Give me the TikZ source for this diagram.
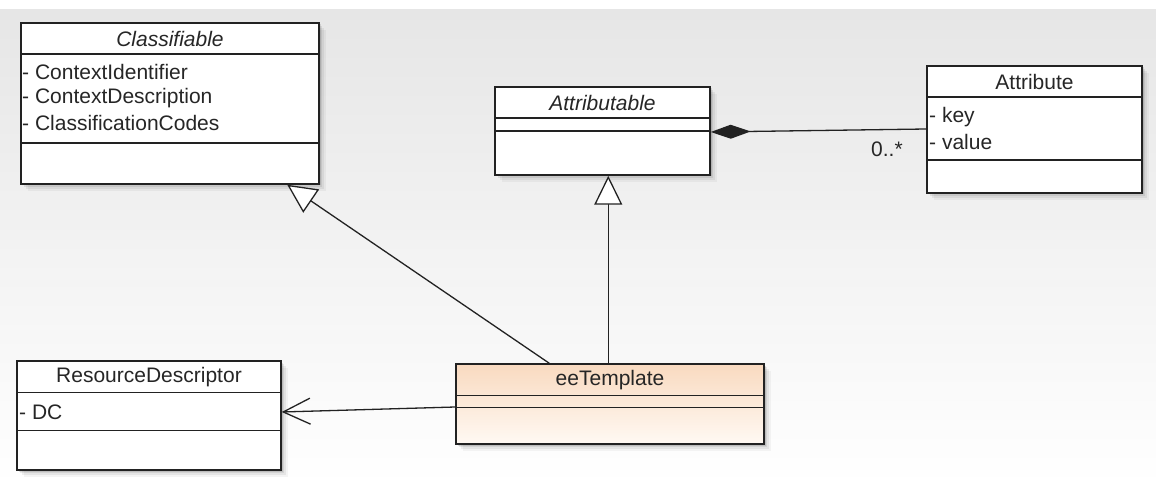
\documentclass[tikz,border=0pt]{standalone}
\usepackage{fontspec}
\setmainfont{Liberation Sans}
\usetikzlibrary{arrows.meta,shadows}
\definecolor{ink}{HTML}{262626}
\definecolor{frame}{HTML}{222222}
\definecolor{bgtop}{HTML}{E6E6E6}
\definecolor{peachtop}{HTML}{F9DAC0}
\definecolor{peachbot}{HTML}{FFF9F3}

\begin{document}
\begin{tikzpicture}[x=1pt,y=-1pt,
  softshadow/.style={
    general shadow={fill=black,opacity=.10,shadow xshift=1.5pt,shadow yshift=-1.5pt},
    general shadow={fill=black,opacity=.08,shadow xshift=3pt,shadow yshift=-3pt},
    general shadow={fill=black,opacity=.06,shadow xshift=5pt,shadow yshift=-5pt},
    general shadow={fill=black,opacity=.04,shadow xshift=7pt,shadow yshift=-7pt}},
  classbox/.style={draw=frame, line width=1.5pt, fill=white, inner sep=0pt, softshadow},
  compartment/.style={draw=frame, line width=1.5pt},
  title/.style={font=\fontsize{21}{25}\selectfont, text=ink, inner sep=0pt},
  titleit/.style={font=\fontsize{21}{25}\selectfont\itshape, text=ink, inner sep=0pt},
  attr/.style={font=\fontsize{21}{25}\selectfont, text=ink, inner sep=0pt, anchor=west},
  conn/.style={draw=frame, line width=1.3pt},
  realize/.style={conn, -{Triangle[open, length=29pt, width=28pt, fill=white]}},
]

\useasboundingbox (0,0) rectangle (1156,486);
\shade[top color=bgtop, bottom color=white] (0,10) rectangle (1156,486);

% Classifiable
\node[classbox, minimum width=298pt, minimum height=161pt] (classifiable) at (170,103.5) {};
\draw[compartment] ([yshift=-32pt]classifiable.north west) -- ([yshift=-32pt]classifiable.north east);
\draw[compartment] ([yshift=-121pt]classifiable.north west) -- ([yshift=-121pt]classifiable.north east);
\node[titleit] (classifiableName) at (170,39) {Classifiable};
\node[attr] (ctxId) at (22,72) {- ContextIdentifier};
\node[attr] (ctxDesc) at (22,98) {- ContextDescription};
\node[attr] (classCodes) at (22,123) {- ClassificationCodes};

% Attributable
\node[classbox, minimum width=215pt, minimum height=88pt] (attributable) at (602.5,131) {};
\draw[compartment] ([yshift=-32pt]attributable.north west) -- ([yshift=-32pt]attributable.north east);
\draw[compartment] ([yshift=-45pt]attributable.north west) -- ([yshift=-45pt]attributable.north east);
\node[titleit] (attributableName) at (602.5,103) {Attributable};

% Attribute
\node[classbox, minimum width=215pt, minimum height=127pt] (attribute) at (1034.5,129.5) {};
\draw[compartment] ([yshift=-32pt]attribute.north west) -- ([yshift=-32pt]attribute.north east);
\draw[compartment] ([yshift=-95pt]attribute.north west) -- ([yshift=-95pt]attribute.north east);
\node[title] (attributeName) at (1034.5,82) {Attribute};
\node[attr] (keyAttr) at (929,117) {- key};
\node[attr] (valueAttr) at (929,142) {- value};

% ResourceDescriptor
\node[classbox, minimum width=264pt, minimum height=109pt] (resource) at (149,415.5) {};
\draw[compartment] ([yshift=-32pt]resource.north west) -- ([yshift=-32pt]resource.north east);
\draw[compartment] ([yshift=-70pt]resource.north west) -- ([yshift=-70pt]resource.north east);
\node[title] (resourceName) at (149,377) {ResourceDescriptor};
\node[attr] (dcAttr) at (19,412) {- DC};

% eeTemplate
\node[classbox, top color=peachtop, bottom color=peachbot, minimum width=308pt, minimum height=80pt] (template) at (610,404) {};
\draw[compartment] ([yshift=-32pt]template.north west) -- ([yshift=-32pt]template.north east);
\draw[compartment] ([yshift=-44pt]template.north west) -- ([yshift=-44pt]template.north east);
\node[title] (templateName) at (610,380) {eeTemplate};

% Generalizations
\draw[realize] ([xshift=94pt]template.north west) -- ([xshift=267pt]classifiable.south west);
\draw[realize] ([xshift=153pt]template.north west) -- ([xshift=114pt]attributable.south west);

% Composition
\draw[conn, -{Diamond[length=40pt, width=14pt, fill=frame]}]
  ([yshift=0.5pt]attribute.west) -- ([yshift=-1pt]attributable.east);
\node[attr] (multiplicity) at (871,149) {0..*};

% Directed association
\draw[conn, -{Straight Barb[length=27pt, width=26pt]}]
  ([yshift=-3pt]template.west) -- ([yshift=3.5pt]resource.east);

\end{tikzpicture}
\end{document}
